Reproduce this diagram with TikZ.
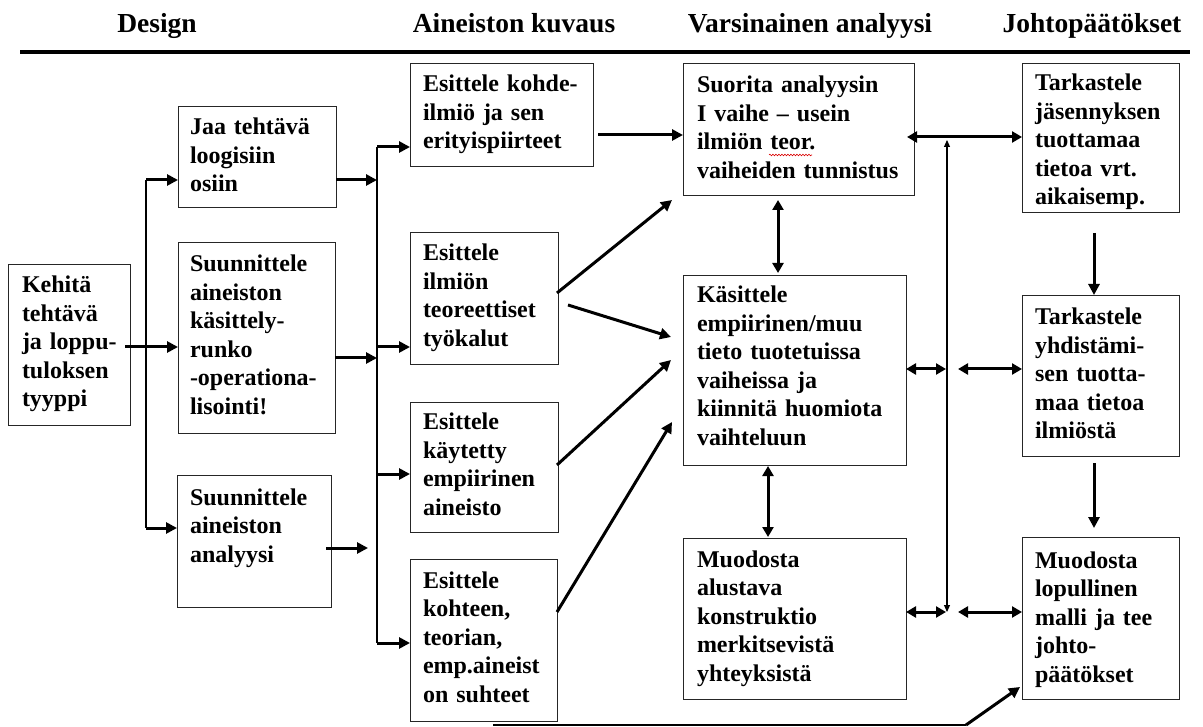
\documentclass[tikz,border=0pt]{standalone}
\usepackage{fontspec}
\setmainfont{Liberation Serif}
\usetikzlibrary{arrows.meta,decorations.pathmorphing}
\newcommand{\boxfont}{\fontsize{24}{28.5}\selectfont\bfseries}
\newcommand{\hdrfont}{\fontsize{27.5}{32}\selectfont\bfseries}
\tikzset{
  box/.style={draw=black!85, line width=0.9pt, anchor=north west, inner sep=0pt, outer sep=0pt},
  txt/.style={anchor=base west, inner sep=0pt, outer sep=0pt, align=left, text width=280pt, font=\boxfont},
  hdr/.style={anchor=base, inner sep=0pt, font=\hdrfont},
  arr/.style={line width=3pt, -{Triangle[length=11pt,width=11pt]}},
  dbl/.style={line width=3pt, {Triangle[length=10pt,width=11pt]}-{Triangle[length=10pt,width=11pt]}},
  thinln/.style={line width=1.3pt},
  thindbl/.style={line width=1.1pt, {Triangle[length=7pt,width=6pt]}-{Triangle[length=7pt,width=6pt]}},
}
\begin{document}
\begin{tikzpicture}[x=1pt,y=-1pt]
\useasboundingbox (0,0) rectangle (1203,727);
% headers
\node[hdr] (h1) at (157,33) {Design};
\node[hdr] (h2) at (514,33) {Aineiston kuvaus};
\node[hdr] (h3) at (810,33) {Varsinainen analyysi};
\node[hdr] (h4) at (1092,33) {Johtopäätökset};
\coordinate (hl1) at (20,52);
\coordinate (hl2) at (1190,52);
\draw[line width=4pt] (hl1) -- (hl2);
% boxes
\node[box, minimum width=122pt, minimum height=161pt] (b1) at (8,264) {};
\node[box, minimum width=158pt, minimum height=101pt] (b2) at (178,106) {};
\node[box, minimum width=157pt, minimum height=191pt] (b3) at (178,242) {};
\node[box, minimum width=154pt, minimum height=132pt] (b4) at (177,475) {};
\node[box, minimum width=183pt, minimum height=103pt] (b5) at (410,63) {};
\node[box, minimum width=148pt, minimum height=132pt] (b6) at (410,232) {};
\node[box, minimum width=148pt, minimum height=130pt] (b7) at (410,402) {};
\node[box, minimum width=147pt, minimum height=162pt] (b8) at (410,559) {};
\node[box, minimum width=231pt, minimum height=132pt] (b9) at (683,63) {};
\node[box, minimum width=223pt, minimum height=190pt] (b10) at (683,275) {};
\node[box, minimum width=223pt, minimum height=161pt] (b11) at (683,538) {};
\node[box, minimum width=157pt, minimum height=149pt] (b12) at (1022,63) {};
\node[box, minimum width=157pt, minimum height=161pt] (b13) at (1022,295) {};
\node[box, minimum width=157pt, minimum height=162pt] (b14) at (1022,537) {};
% texts
\node[txt] (t1) at ([xshift=14pt,yshift=-29pt]b1.north west) {Kehitä\\tehtävä\\ja loppu-\\tuloksen\\tyyppi};
\node[txt] (t2) at ([xshift=12pt,yshift=-29pt]b2.north west) {Jaa tehtävä\\loogisiin\\osiin};
\node[txt] (t3) at ([xshift=12pt,yshift=-30pt]b3.north west) {Suunnittele\\aineiston\\käsittely-\\runko\\-operationa-\\lisointi!};
\node[txt] (t4) at ([xshift=13pt,yshift=-30pt]b4.north west) {Suunnittele\\aineiston\\analyysi};
\node[txt] (t5) at ([xshift=13pt,yshift=-29pt]b5.north west) {Esittele kohde-\\ilmiö ja sen\\erityispiirteet};
\node[txt] (t6) at ([xshift=13pt,yshift=-29pt]b6.north west) {Esittele\\ilmiön\\teoreettiset\\työkalut};
\node[txt] (t7) at ([xshift=13pt,yshift=-28pt]b7.north west) {Esittele\\käytetty\\empiirinen\\aineisto};
\node[txt] (t8) at ([xshift=13pt,yshift=-29pt]b8.north west) {Esittele\\kohteen,\\teorian,\\emp.aineist\\on suhteet};
\node[txt] (t9) at ([xshift=14pt,yshift=-30pt]b9.north west) {Suorita analyysin\\I vaihe – usein\\ilmiön teor.\\vaiheiden tunnistus};
\node[txt] (t10) at ([xshift=14pt,yshift=-28pt]b10.north west) {Käsittele\\empiirinen/muu\\tieto tuotetuissa\\vaiheissa ja\\kiinnitä huomiota\\vaihteluun};
\node[txt] (t11) at ([xshift=14pt,yshift=-29pt]b11.north west) {Muodosta\\alustava\\konstruktio\\merkitsevistä\\yhteyksistä};
\node[txt] (t12) at ([xshift=13pt,yshift=-28pt]b12.north west) {Tarkastele\\jäsennyksen\\tuottamaa\\tietoa vrt.\\aikaisemp.};
\node[txt] (t13) at ([xshift=13pt,yshift=-30pt]b13.north west) {Tarkastele\\yhdistämi-\\sen tuotta-\\maa tietoa\\ilmiöstä};
\node[txt] (t14) at ([xshift=13pt,yshift=-31pt]b14.north west) {Muodosta\\lopullinen\\malli ja tee\\johto-\\päätökset};
% spell-check squiggle under "teor"
\coordinate (sq1) at (769,155);
\coordinate (sq2) at (812,155);
\draw[red!85!black, line width=0.6pt, decorate, decoration={snake, amplitude=0.8pt, segment length=3pt}] (sq1) -- (sq2);
% left tree
\coordinate (v1t) at (146,180);
\coordinate (v1b) at (146,528);
\draw[thinln] (v1t) -- (v1b);
\draw[arr] (v1t) -- (v1t -| b2.west);
\draw[arr] (v1b) -- (v1b -| b4.west);
\coordinate (k1) at (125,347);
\draw[arr] (k1) -- (k1 -| b3.west);
% second tree
\coordinate (v2t) at (377,147);
\coordinate (v2b) at (377,643);
\draw[thinln] (v2t) -- (v2b);
\coordinate (a2) at (336,180);
\coordinate (a3) at (335,358);
\coordinate (a4s) at (326,548);
\coordinate (a4e) at (368,548);
\draw[arr] (a2) -- (a2 -| v2t);
\draw[arr] (a3) -- (a3 -| v2t);
\draw[arr] (a4s) -- (a4e);
\coordinate (e6) at (377,347);
\coordinate (e7) at (377,474);
\draw[arr] (v2t) -- (v2t -| b5.west);
\draw[arr] (e6) -- (e6 -| b6.west);
\draw[arr] (e7) -- (e7 -| b7.west);
\draw[arr] (v2b) -- (v2b -| b8.west);
% into analysis
\coordinate (c5) at (598,135);
\draw[arr] (c5) -- (c5 -| b9.west);
\coordinate (c6a) at (557,293);
\coordinate (c6ae) at (672,200);
\draw[arr] (c6a) -- (c6ae);
\coordinate (c6b) at (568,305);
\coordinate (c6be) at (671,337);
\draw[arr] (c6b) -- (c6be);
\coordinate (c7) at (557,465);
\coordinate (c7e) at (671,360);
\draw[arr] (c7) -- (c7e);
\coordinate (c8) at (557,612);
\coordinate (c8e) at (672,422);
\draw[arr] (c8) -- (c8e);
% analysis column
\coordinate (d1) at (778,200);
\coordinate (d2) at (778,273);
\draw[dbl] (d1) -- (d2);
\coordinate (d3) at (768,466);
\coordinate (d4) at (768,537);
\draw[dbl] (d3) -- (d4);
\coordinate (r1) at (907,137);
\draw[dbl] (r1) -- (r1 -| b12.west);
\coordinate (vt) at (947,140);
\coordinate (vb) at (947,612);
\draw[thindbl] (vb) -- (vt);
\coordinate (r2) at (906,369);
\coordinate (r2e) at (946,369);
\coordinate (r3) at (958,369);
\draw[dbl] (r2) -- (r2e);
\draw[dbl] (r3) -- (r3 -| b13.west);
\coordinate (r4) at (906,612);
\coordinate (r4e) at (946,612);
\coordinate (r5) at (958,612);
\draw[dbl] (r4) -- (r4e);
\draw[dbl] (r5) -- (r5 -| b14.west);
% conclusions column
\coordinate (j1) at (1094,233);
\draw[arr] (j1) -- (j1 |- b13.north);
\coordinate (j2) at (1094,463);
\coordinate (j2e) at (1094,528);
\draw[arr] (j2) -- (j2e);
% bottom line
\coordinate (bl1) at (493,725);
\coordinate (bl2) at (966,725);
\coordinate (bl3) at (1020,687);
\draw[thinln] (bl1) -- (bl2);
\draw[arr] (bl2) -- (bl3);
\end{tikzpicture}
\end{document}
